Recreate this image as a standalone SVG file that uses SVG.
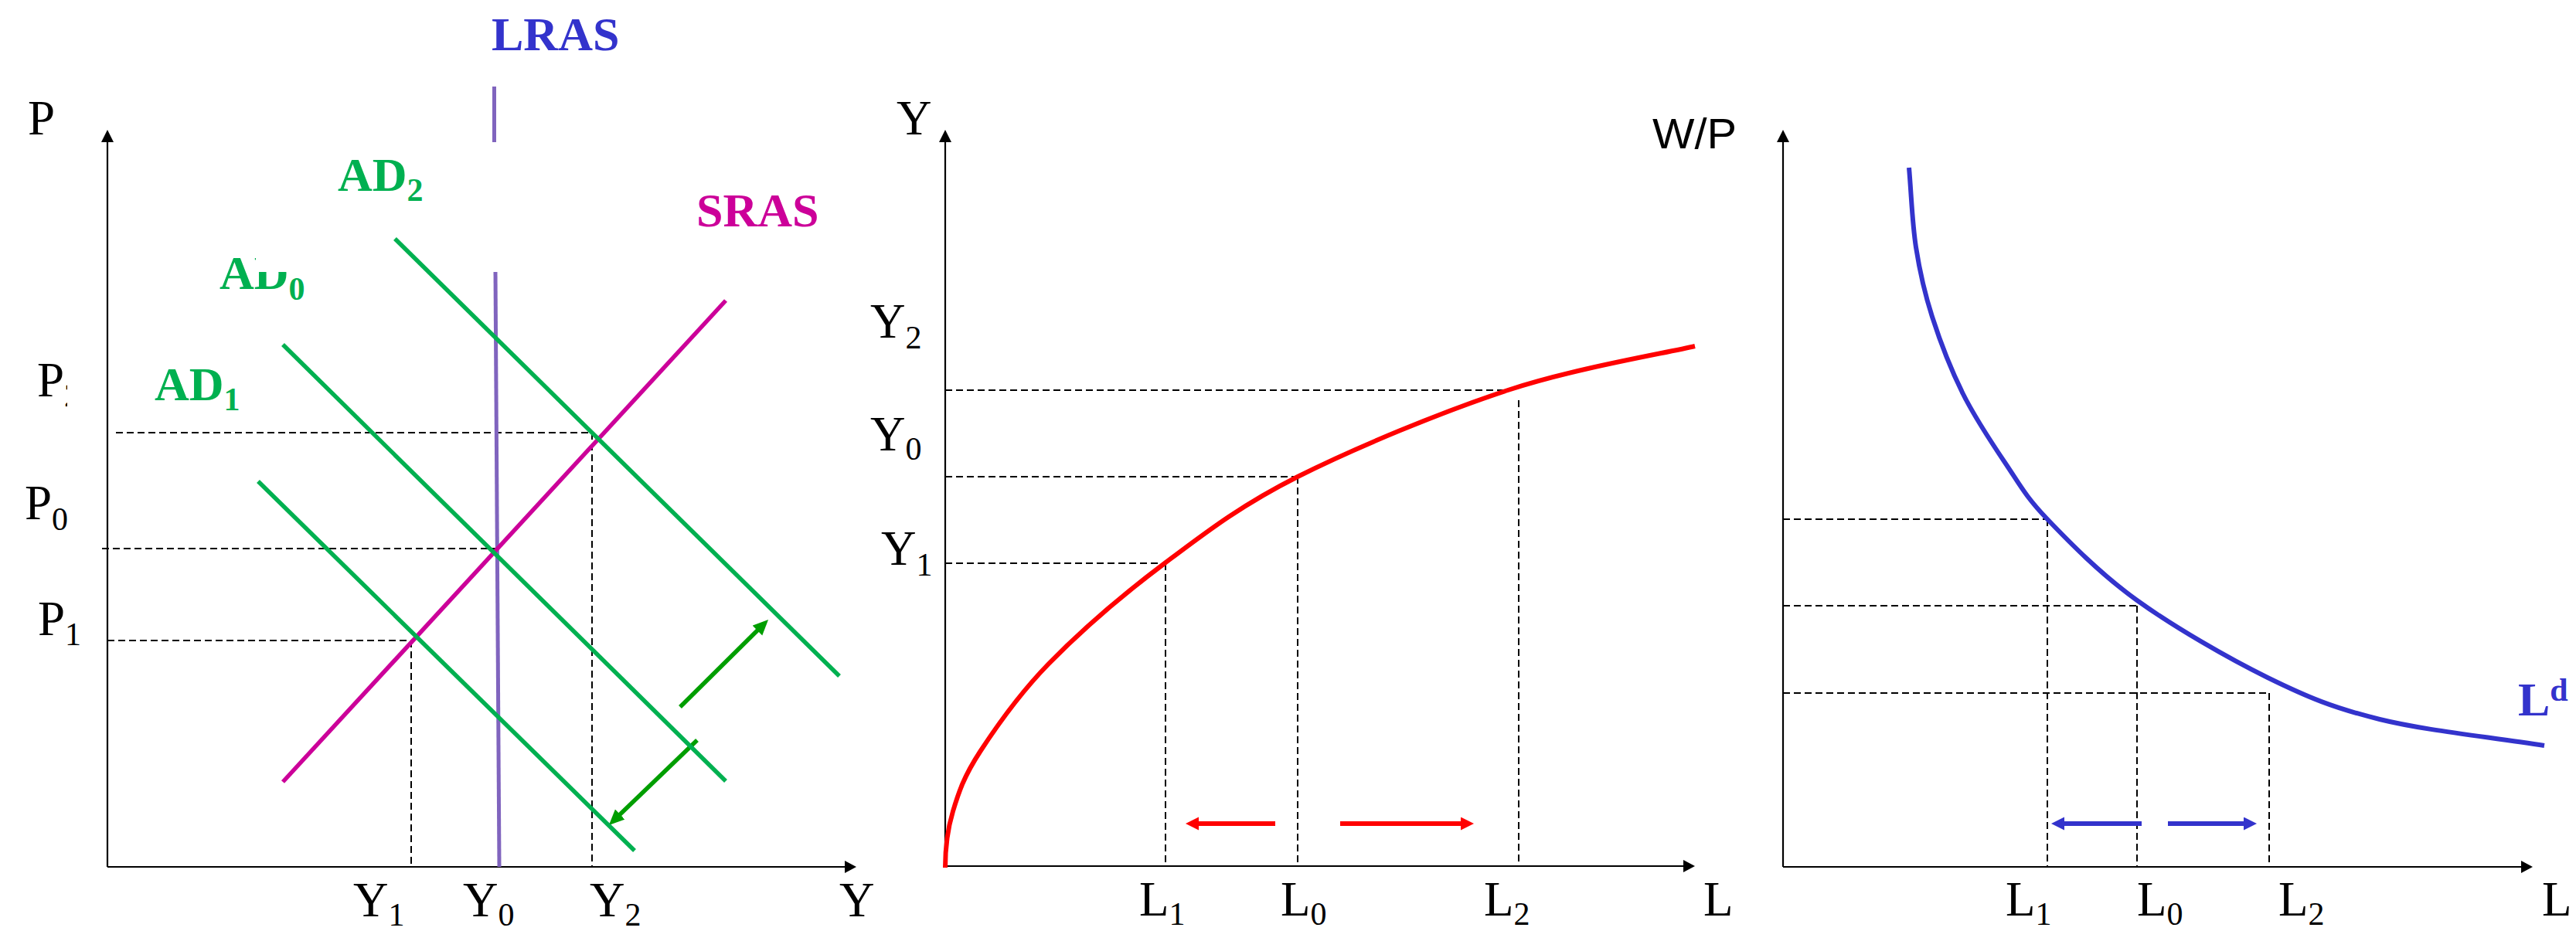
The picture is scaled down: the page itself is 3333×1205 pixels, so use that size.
<svg xmlns="http://www.w3.org/2000/svg" width="3333" height="1205" viewBox="0 0 3333 1205">
<style>
.lbl{font-family:"Liberation Serif","Times New Roman",serif;font-size:63px;fill:#000}
.sub{font-size:42px}
.bold{font-family:"Liberation Serif","Times New Roman",serif;font-size:62px;font-weight:bold}
.green{fill:#00B050}
.blue{fill:#3333CC}
.mag{fill:#CC0099}
.axis{stroke:#000;stroke-width:2.2;fill:none}
.dash{stroke:#000;stroke-width:2;stroke-dasharray:9 5;fill:none}
.adl{stroke:#00B050;stroke-width:5.5;fill:none}
</style>
<defs>
<marker id="hg" markerUnits="userSpaceOnUse" markerWidth="24" markerHeight="20" refX="10" refY="9" orient="auto"><path d="M0,0 L20,9 L0,18 z" fill="#009E00"/></marker>
<marker id="hr" markerUnits="userSpaceOnUse" markerWidth="20" markerHeight="20" refX="7" refY="8.5" orient="auto"><path d="M0,0 L17,8.5 L0,17 z" fill="#FF0000"/></marker>
<marker id="hb" markerUnits="userSpaceOnUse" markerWidth="20" markerHeight="20" refX="7" refY="8.5" orient="auto"><path d="M0,0 L17,8.5 L0,17 z" fill="#3333CC"/></marker>
<clipPath id="p2clip"><rect x="0" y="440" width="87" height="100"/></clipPath>
</defs>
<rect width="3333" height="1205" fill="#fff"/>

<!-- Axes -->
<g id="axes">
<line class="axis" x1="139" y1="180" x2="139" y2="1122"/>
<polygon points="139,168 131,184 147,184" fill="#000"/>
<line class="axis" x1="139" y1="1122" x2="1095" y2="1122" stroke-width="2.6"/>
<polygon points="1108,1122 1093,1114 1093,1130" fill="#000"/>
<line class="axis" x1="1223" y1="180" x2="1223" y2="1121"/>
<polygon points="1223,168 1215,184 1231,184" fill="#000"/>
<line class="axis" x1="1223" y1="1121" x2="2180" y2="1121" stroke-width="2.6"/>
<polygon points="2193,1121 2178,1113 2178,1129" fill="#000"/>
<line class="axis" x1="2307" y1="180" x2="2307" y2="1122"/>
<polygon points="2307,168 2299,184 2315,184" fill="#000"/>
<line class="axis" x1="2307" y1="1122" x2="3264" y2="1122" stroke-width="2.6"/>
<polygon points="3277,1122 3262,1114 3262,1130" fill="#000"/>
</g>

<!-- Connectors: dashed guides and shift arrows -->
<g id="connectors">
<line class="dash" x1="150" y1="560" x2="766" y2="560"/>
<line class="dash" x1="766" y1="560" x2="766" y2="1122"/>
<line class="dash" x1="132" y1="710" x2="643" y2="710"/>
<line class="dash" x1="139" y1="829" x2="532" y2="829"/>
<line class="dash" x1="532" y1="829" x2="532" y2="1122"/>

<line class="dash" x1="1223" y1="505" x2="1951" y2="505"/>
<line class="dash" x1="1965" y1="518" x2="1965" y2="1121"/>
<line class="dash" x1="1223" y1="617" x2="1679" y2="617"/>
<line class="dash" x1="1679" y1="617" x2="1679" y2="1121"/>
<line class="dash" x1="1223" y1="729" x2="1507" y2="729"/>
<line class="dash" x1="1508" y1="729" x2="1508" y2="1121"/>

<line class="dash" x1="2307" y1="672" x2="2649" y2="672"/>
<line class="dash" x1="2649" y1="672" x2="2649" y2="1122"/>
<line class="dash" x1="2307" y1="784" x2="2765" y2="784"/>
<line class="dash" x1="2765" y1="784" x2="2765" y2="1122"/>
<line class="dash" x1="2307" y1="897" x2="2936" y2="897"/>
<line class="dash" x1="2936" y1="897" x2="2936" y2="1122"/>

<line x1="880" y1="915" x2="987" y2="809" stroke="#009E00" stroke-width="5.5" marker-end="url(#hg)"/>
<line x1="902" y1="958" x2="795" y2="1061" stroke="#009E00" stroke-width="5.5" marker-end="url(#hg)"/>

<line x1="1650" y1="1066" x2="1544" y2="1066" stroke="#FF0000" stroke-width="6" marker-end="url(#hr)"/>
<line x1="1734" y1="1066" x2="1897" y2="1066" stroke="#FF0000" stroke-width="6" marker-end="url(#hr)"/>
<line x1="2771" y1="1066" x2="2664" y2="1066" stroke="#3333CC" stroke-width="6" marker-end="url(#hb)"/>
<line x1="2805" y1="1066" x2="2910" y2="1066" stroke="#3333CC" stroke-width="6" marker-end="url(#hb)"/>
</g>

<!-- Left panel curves -->
<g id="lras">
<line x1="639.5" y1="112" x2="639.5" y2="184" stroke="#8064BE" stroke-width="5"/>
<line x1="641" y1="352" x2="646" y2="1122" stroke="#8064BE" stroke-width="5"/>
</g>
<g id="sras"><line x1="366" y1="1012" x2="939" y2="389" stroke="#CC0099" stroke-width="5.5"/></g>
<g id="ad2"><line class="adl" x1="511" y1="309" x2="1086" y2="875"/></g>
<g id="ad0"><line class="adl" x1="366" y1="446" x2="939" y2="1011"/></g>
<g id="ad1"><line class="adl" x1="334" y1="623" x2="821" y2="1101"/></g>

<!-- Middle panel curve -->
<g id="production">
<path d="M1223,1123 C1223,1100 1225.5,1075 1233,1050 C1240.5,1025 1247.3,1004.8 1268,973 C1288.7,941.2 1317.2,899.7 1357,859 C1396.8,818.3 1453.3,769.3 1507,729 C1560.7,688.7 1605,654.3 1679,617 C1753,579.7 1865.3,533.2 1951,505 C2036.7,476.8 2152.7,457.5 2193,448" fill="none" stroke="#FF0000" stroke-width="6"/>
</g>

<!-- Right panel curve -->
<g id="labor-demand">
<path d="M2470,217 C2473,251.3 2474,287.8 2479,320 C2484,352.2 2489.8,378.3 2500,410 C2510.2,441.7 2524.2,478.3 2540,510 C2555.8,541.7 2576.8,573 2595,600 C2613.2,627 2620.7,642.5 2649,672 C2677.3,701.5 2717.5,742.8 2765,777 C2812.5,811.2 2881.7,851.3 2934,877 C2986.3,902.7 3019.3,916.3 3079,931 C3138.7,945.7 3221,953.7 3292,965" fill="none" stroke="#3333CC" stroke-width="6"/>
</g>

<!-- Labels -->
<g id="label-lras"><text class="bold blue" x="636" y="65">LRAS</text></g>
<g id="label-sras"><text class="bold mag" x="901" y="293">SRAS</text></g>
<g id="label-ad2"><text class="bold green" x="437" y="247">AD<tspan class="sub" dy="13">2</tspan></text></g>
<g id="label-ad0"><text class="bold green" x="284" y="374">AD<tspan class="sub" dy="14">0</tspan></text>
<rect x="331" y="318" width="45" height="34" fill="#fff"/></g>
<g id="label-ad1"><text class="bold green" x="200" y="518">AD<tspan class="sub" dy="13">1</tspan></text></g>

<g id="labels-left">
<text class="lbl" x="36" y="174">P</text>
<text class="lbl" x="48" y="513" clip-path="url(#p2clip)">P<tspan class="sub" dy="13">2</tspan></text>
<text class="lbl" x="32" y="672">P<tspan class="sub" dy="14">0</tspan></text>
<text class="lbl" x="49" y="822">P<tspan class="sub" dy="13">1</tspan></text>
<text class="lbl" x="457" y="1186">Y<tspan class="sub" dy="12">1</tspan></text>
<text class="lbl" x="599" y="1186">Y<tspan class="sub" dy="12">0</tspan></text>
<text class="lbl" x="763" y="1186">Y<tspan class="sub" dy="12">2</tspan></text>
<text class="lbl" x="1086" y="1186">Y</text>
</g>

<g id="labels-middle">
<text class="lbl" x="1160" y="174">Y</text>
<text class="lbl" x="1126" y="437">Y<tspan class="sub" dy="14">2</tspan></text>
<text class="lbl" x="1126" y="583">Y<tspan class="sub" dy="12">0</tspan></text>
<text class="lbl" x="1140" y="731">Y<tspan class="sub" dy="14">1</tspan></text>
<text class="lbl" x="1474" y="1185">L<tspan class="sub" dy="12">1</tspan></text>
<text class="lbl" x="1657" y="1185">L<tspan class="sub" dy="12">0</tspan></text>
<text class="lbl" x="1920" y="1185">L<tspan class="sub" dy="12">2</tspan></text>
<text class="lbl" x="2204" y="1185">L</text>
<text x="2138" y="192" font-family="'Liberation Sans',Arial,sans-serif" font-size="56" textLength="109" lengthAdjust="spacingAndGlyphs" fill="#000">W/P</text>
</g>

<g id="labels-right">
<text class="lbl" x="2595" y="1185">L<tspan class="sub" dy="12">1</tspan></text>
<text class="lbl" x="2765" y="1185">L<tspan class="sub" dy="12">0</tspan></text>
<text class="lbl" x="2948" y="1185">L<tspan class="sub" dy="12">2</tspan></text>
<text class="lbl" x="3289" y="1185">L</text>
<text class="bold blue" x="3258" y="926">L<tspan class="sub" dy="-19">d</tspan></text>
</g>
</svg>
